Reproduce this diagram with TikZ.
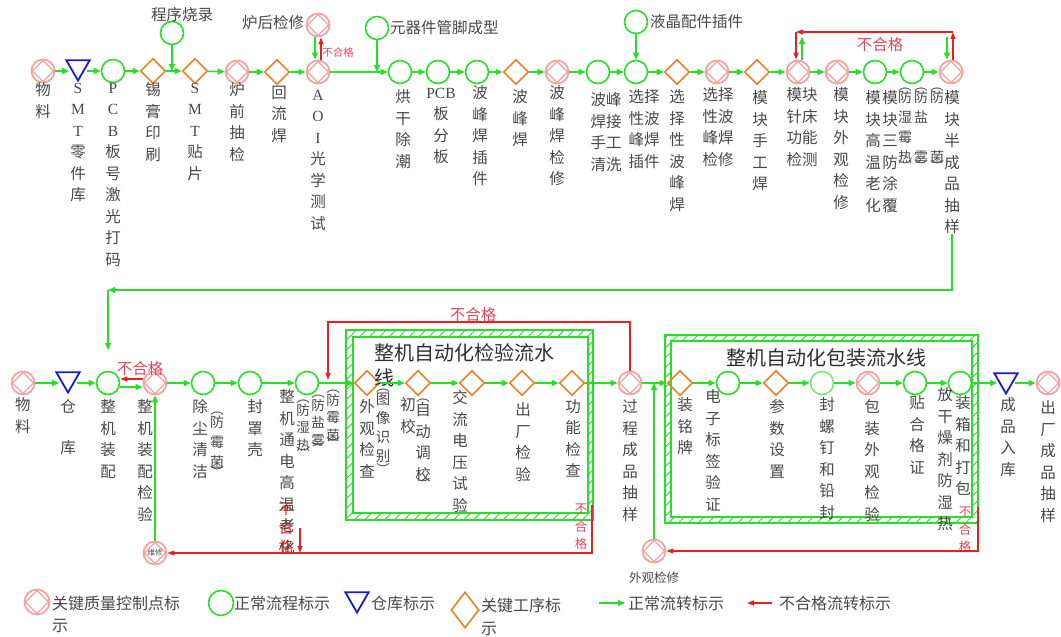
\documentclass[tikz,border=0pt]{standalone}
\usepackage{fontspec}
\newfontfamily\cjk{Noto Sans CJK SC}
\newfontfamily\latn{Liberation Serif}
\usetikzlibrary{shapes.geometric,arrows.meta,patterns.meta}
\definecolor{fg}{RGB}{40,222,40}
\definecolor{fgl}{RGB}{120,232,120}
\definecolor{qcp}{RGB}{243,163,163}
\definecolor{ko}{RGB}{240,128,40}
\definecolor{wb}{RGB}{25,25,205}
\definecolor{br}{RGB}{232,32,32}
\definecolor{brt}{RGB}{228,70,90}
\definecolor{tg}{RGB}{72,72,72}
\newcommand\ltn[1]{{\latn #1}}
\begin{document}
\begin{tikzpicture}[x=1pt,y=-1pt,
  qc/.style={circle,draw=qcp,line width=1.8pt,minimum size=23pt,inner sep=0pt,
    path picture={\draw[qcp,line width=1.2pt]
      ([yshift=-1pt]path picture bounding box.north) -- ([xshift=-1pt]path picture bounding box.east) --
      ([yshift=1pt]path picture bounding box.south) -- ([xshift=1pt]path picture bounding box.west) -- cycle;}},
  circ/.style={circle,draw=fg,line width=1.6pt,minimum size=23pt,inner sep=0pt},
  dia/.style={diamond,draw=ko,line width=1.6pt,minimum width=25pt,minimum height=25pt,inner sep=0pt},
  tri/.style={regular polygon,regular polygon sides=3,shape border rotate=180,draw=wb,line width=1.8pt,minimum size=27pt,inner sep=0pt},
  flow/.style={draw=fg,line width=1.4pt,-{Triangle[length=7pt,width=6pt]}},
  bad/.style={draw=br,line width=1.2pt,-{Triangle[length=7pt,width=5pt]}},
  lbl/.style={font=\cjk\fontsize{15.5}{21.5}\selectfont,text=tg,align=center,inner sep=0pt,anchor=north},
  pl/.style={font=\cjk\fontsize{14}{20}\selectfont,text=tg,align=center,inner sep=0pt,anchor=north},
  pl2/.style={font=\cjk\fontsize{13.5}{17.5}\selectfont,text=tg,align=center,inner sep=0pt,anchor=north},
  pl3/.style={font=\cjk\fontsize{14.5}{19}\selectfont,text=tg,align=center,inner sep=0pt,anchor=north},
  pp/.style={font=\cjk\fontsize{13.5}{14}\selectfont,text=tg,inner sep=0pt},
  hl/.style={font=\cjk\fontsize{15.5}{18}\selectfont,text=tg,inner sep=0pt},
  sl/.style={font=\cjk\fontsize{12.5}{14}\selectfont,text=tg,inner sep=0pt},
  lgt/.style={font=\cjk\fontsize{16}{18}\selectfont,text=tg,inner sep=0pt,anchor=west},
  rl/.style={font=\cjk\fontsize{15.5}{18}\selectfont,text=brt,inner sep=0pt},
  rs/.style={font=\cjk\fontsize{12.5}{17.5}\selectfont,text=brt,align=center,inner sep=0pt,anchor=north},
  rv/.style={font=\cjk\fontsize{15}{19}\selectfont,text=br,align=center,inner sep=0pt,anchor=north},
  ttl/.style={font=\cjk\fontsize{20}{24}\selectfont,text=black!82,inner sep=0pt},
  hatchbox/.style={pattern={Lines[angle=45,distance=7pt,line width=0.9pt]},pattern color=fg,even odd rule},
  boxln/.style={draw=fg,line width=1.3pt}
]
\useasboundingbox (0,0) rectangle (1061,637);

% ---------- hatched boxes ----------
\fill[hatchbox] (346,330) rectangle (593,520) (353,337) rectangle (588,513);
\draw[boxln] (346,330) rectangle (593,520) (353,337) rectangle (588,513);
\fill[hatchbox] (665,335) rectangle (978,523) (671,341) rectangle (972,517);
\draw[boxln] (665,335) rectangle (978,523) (671,341) rectangle (972,517);

% ---------- top row nodes ----------
\node[qc] (t1) at (43,71) {};
\node[tri] (t2) at (78,67) {};
\node[circ] (t3) at (113,71) {};
\node[dia] (t4) at (153,71) {};
\node[dia] (t5) at (195,71) {};
\node[qc] (t6) at (237,72) {};
\node[dia] (t7) at (277,72) {};
\node[qc] (t8) at (318,72) {};
\node[qc] (t8u) at (318,25) {};
\node[circ] (t4u) at (172,33) {};
\coordinate (j1) at (172,71);
\node[circ] (t9) at (400,72) {};
\node[circ] (t9u) at (377,28) {};
\coordinate (j2) at (377,72);
\node[circ] (t10) at (438,72) {};
\node[circ] (t11) at (477,72) {};
\node[dia] (t12) at (516,72) {};
\node[qc] (t13) at (557,72) {};
\node[circ] (t14) at (598,72) {};
\node[circ] (t15) at (636,72) {};
\node[circ] (t15u) at (636,22) {};
\node[dia] (t16) at (677,72) {};
\node[qc] (t17) at (717,72) {};
\node[dia] (t18) at (757,72) {};
\node[qc] (t19) at (798,72) {};
\node[qc] (t20) at (837,72) {};
\node[circ] (t21) at (875,72) {};
\node[circ] (t22) at (912,72) {};
\node[qc] (t23) at (951,72) {};

% top labels
\node[hl] (h1) at (182,15) {程序烧录};
\node[hl] (h2) at (273,23) {炉后检修};
\node[hl,anchor=west] (h3) at (390,28) {元器件管脚成型};
\node[hl,anchor=west] (h4) at (650,22) {液晶配件插件};
\node[rl,font=\cjk\fontsize{10.5}{12}\selectfont] (nr6) at (338,52) {不合格};
\node[rl] (nr5) at (880,45) {不合格};

\node[lbl] (lt1) at (43,82.5) {物\\料};
\node[lbl] (lt2) at (78,83) {\ltn{S}\\\ltn{M}\\\ltn{T}\\零\\件\\库};
\node[lbl] (lt3) at (113,83) {\ltn{P}\\\ltn{C}\\\ltn{B}\\板\\号\\激\\光\\打\\码};
\node[lbl] (lt4) at (153,82.5) {锡\\膏\\印\\刷};
\node[lbl] (lt5) at (195,83) {\ltn{S}\\\ltn{M}\\\ltn{T}\\贴\\片};
\node[lbl] (lt6) at (237,82.5) {炉\\前\\抽\\检};
\node[lbl] (lt7) at (279,85.5) {回\\流\\焊};
\node[lbl] (lt8) at (318,90) {\ltn{A}\\\ltn{O}\\\ltn{I}\\光\\学\\测\\试};
\node[lbl] (lt9) at (403,89.5) {烘\\干\\除\\潮};
\node[lbl] (lt10) at (441,88) {\ltn{PCB}\\板\\分\\板};
\node[lbl] (lt11) at (480,85.5) {波\\峰\\焊\\插\\件};
\node[lbl] (lt12) at (520,89.5) {波\\峰\\焊};
\node[lbl] (lt13) at (557,85.5) {波\\峰\\焊\\检\\修};
\node[lbl] (lt14) at (606,92.5) {波峰\\焊接\\手工\\清洗};
\node[lbl] (lt15) at (644,89.5) {选择\\性波\\峰焊\\插件};
\node[lbl] (lt16) at (677,89.5) {选\\择\\性\\波\\峰\\焊};
\node[lbl] (lt17) at (718,87.5) {选择\\性波\\峰焊\\检修};
\node[lbl] (lt18) at (760,90.5) {模\\块\\手\\工\\焊};
\node[lbl] (lt19) at (802,87.5) {模块\\针床\\功能\\检测};
\node[lbl] (lt20) at (841,87.5) {模\\块\\外\\观\\检\\修};
\node[lbl] (lt21) at (873,90.5) {模\\块\\高\\温\\老\\化};
\node[lbl] (lt22) at (890,90.5) {模\\块\\三\\防\\涂\\覆};
\node[pl] (lt22a) at (905,91) {防\\湿\\霉\\热};
\node[pl] (lt22b) at (921,91) {防\\盐\\\phantom{盐}\\雾};
\node[pl] (lt22c) at (937,91) {防\\\phantom{菌}\\\phantom{菌}\\菌};
\node[pp] (pa1) at (905,90) {︵};
\node[pp] (pa2) at (905,166) {︶};
\node[pp] (pa3) at (921,90) {︵};
\node[pp] (pa4) at (921,166) {︶};
\node[pp] (pa5) at (937,90) {︵};
\node[pp] (pa6) at (937,166) {︶};
\node[lbl] (lt23) at (952,90.5) {模\\块\\半\\成\\品\\抽\\样};

% top arrows
\draw[flow] (t1) -- (t1 -| t2.west);
\draw[flow] (t3 -| t2.east) -- (t3);
\draw[flow] (t3) -- (t4);
\draw[flow] (t4) -- (t5);
\draw[flow] (t4u) -- (j1);
\draw[flow] (t5) -- (t6);
\draw[flow] (t6) -- (t7);
\draw[flow] (t7) -- (t8);
\draw[flow] ([xshift=-3pt]t8u.south) -- ([xshift=-3pt]t8.north);
\draw[bad] ([xshift=3pt]t8.north) -- ([xshift=3pt]t8u.south);
\draw[flow] (t8) -- (t9);
\draw[flow] (t9u) -- (j2);
\draw[flow] (t9) -- (t10);
\draw[flow] (t10) -- (t11);
\draw[flow] (t11) -- (t12);
\draw[flow] (t12) -- (t13);
\draw[flow] (t13) -- (t14);
\draw[flow] (t14) -- (t15);
\draw[flow] (t15u) -- (t15);
\draw[flow] (t15) -- (t16);
\draw[flow] (t16) -- (t17);
\draw[flow] (t17) -- (t18);
\draw[flow] (t18) -- (t19);
\draw[flow] (t19) -- (t20);
\draw[flow] (t20) -- (t21);
\draw[flow] (t21) -- (t22);
\draw[flow] (t22) -- (t23);

% top-right rework loop
\coordinate (ra) at (953,32);
\coordinate (rb) at (796,32);
\draw[bad] ([xshift=2pt]t23.north) -- (ra);
\draw[bad] (ra) -- (rb);
\draw[bad] (rb) -- ([xshift=-2pt]t19.north);
\coordinate (ga) at (802,37);
\coordinate (gb) at (947,37);
\draw[flow] ([xshift=4pt]t19.north) -- (ga);
\draw[flow] (gb) -- ([xshift=-4pt]t23.north);

% long return line
\coordinate (gc) at (108,290);
\coordinate (ge) at (108,350);
\draw[flow] (lt23.south) |- (gc);
\draw[flow] (gc) -- (ge);

% ---------- bottom row nodes ----------
\node[qc] (b1) at (23,383) {};
\node[tri] (b2) at (68,379) {};
\node[circ] (b3) at (108,383) {};
\node[qc] (b4) at (155,383) {};
\node[circ] (b5) at (203,383) {};
\node[circ] (b6) at (250,383) {};
\node[circ] (b7) at (307,383) {};
\node[dia] (b8) at (367,383) {};
\node[dia] (b9) at (418,383) {};
\node[dia] (b10) at (472,383) {};
\node[dia] (b11) at (522,383) {};
\node[dia] (b12) at (572,383) {};
\node[qc] (b13) at (630,383) {};
\node[qc] (b13d) at (654,551) {};
\coordinate (j3) at (654,383);
\node[dia] (b14) at (680,383) {};
\node[circ] (b15) at (728,383) {};
\node[dia] (b16) at (776,383) {};
\node[circ,draw=fgl] (b17) at (822,383) {};
\node[qc] (b18) at (868,383) {};
\node[circ] (b19) at (915,383) {};
\node[circ] (b20) at (960,383) {};
\node[tri] (b21) at (1006,380) {};
\node[qc] (b22) at (1048,383) {};
\node[qc,font=\cjk\fontsize{7.5}{8}\selectfont,text=tg] (b4d) at (155,553) {维修};

% titles
\node[ttl,anchor=west] (tt1) at (374,353) {整机自动化检验流水};
\node[ttl,anchor=west] (tt1b) at (374,378) {线};
\node[ttl] (tt2) at (826,358) {整机自动化包装流水线};

% red labels
\node[rl] (nr3) at (140,369) {不合格};
\node[rl] (nr4) at (473,315) {不合格};
\node[rs] (nr1) at (581,504) {不\\合\\格};
\node[rs] (nr2) at (965,507) {不\\合\\格};
\node[rv] (lb7r) at (286,503) {不\\合\\格};

% bottom labels
\node[lbl] (lb1) at (23,397.5) {物\\料};
\node[lbl] (lb2) at (68,399.5) {仓\\[19.5pt]库};
\node[lbl] (lb3) at (108,399.5) {整\\机\\装\\配};
\node[lbl] (lb4) at (145,399.5) {整\\机\\装\\配\\检\\验};
\node[lbl] (lb5) at (200,399.5) {除\\尘\\清\\洁};
\node[pl] (lb5a) at (217,416) {防\\霉\\菌};
\node[pp] (pb1) at (217,414) {︵};
\node[pp] (pb2) at (217,472) {︶};
\node[lbl] (lb6) at (255,399.5) {封\\罩\\壳};
\node[lbl] (lb7) at (287,389.5) {整\\机\\通\\电\\高\\温\\老\\化};
\node[pl2] (lb7a) at (303,403.5) {防\\湿\\热};
\node[pp] (pc1) at (303,402) {︵};
\node[pp] (pc2) at (303,453) {︶};
\node[pl2] (lb7b) at (318,398.5) {防\\盐\\雾};
\node[pp] (pc3) at (318,397) {︵};
\node[pp] (pc4) at (318,448) {︶};
\node[pl2] (lb7c) at (333,393.5) {防\\霉\\菌};
\node[pp] (pc5) at (333,392) {︵};
\node[pp] (pc6) at (333,443) {︶};
\node[lbl] (lb8) at (367,399.5) {外\\观\\检\\查};
\node[pl3] (lb8a) at (383,393) {图\\像\\识\\别};
\node[pp] (pd1) at (383,391) {︵};
\node[pp] (pd2) at (383,469) {︶};
\node[lbl] (lb9) at (408,397.5) {初\\校};
\node[lbl] (lb9a) at (423,402.5) {自\\动\\调\\校};
\node[pp] (pd3) at (423,401) {︵};
\node[pp] (pd4) at (423,484) {︶};
\node[lbl] (lb10) at (460,390.5) {交\\流\\电\\压\\试\\验};
\node[lbl] (lb11) at (523,402.5) {出\\厂\\检\\验};
\node[lbl] (lb12) at (573,399.5) {功\\能\\检\\查};
\node[lbl] (lb13) at (630,399.5) {过\\程\\成\\品\\抽\\样};
\node[sl] (lb13d) at (654,578) {外观检修};
\node[lbl] (lb14) at (685,397.5) {装\\铭\\牌};
\node[lbl] (lb15) at (713,389.5) {电\\子\\标\\签\\验\\证};
\node[lbl] (lb16) at (777,399.5) {参\\数\\设\\置};
\node[lbl] (lb17) at (827,397.5) {封\\螺\\钉\\和\\铅\\封};
\node[lbl] (lb18) at (872,399.5) {包\\装\\外\\观\\检\\验};
\node[lbl] (lb19) at (917,395.5) {贴\\合\\格\\证};
\node[lbl] (lb20a) at (945,387.5) {放\\干\\燥\\剂\\防\\湿\\热};
\node[lbl] (lb20) at (963,395.5) {装\\箱\\和\\打\\包};
\node[lbl] (lb21) at (1008,397.5) {成\\品\\入\\库};
\node[lbl] (lb22) at (1048,400.5) {出\\厂\\成\\品\\抽\\样};

% bottom arrows
\draw[flow] (b1) -- (b1 -| b2.west);
\draw[flow] (b3 -| b2.east) -- (b3);
\draw[flow] ([yshift=-4pt]b3.east) -- ([yshift=-4pt]b4.west);
\draw[bad] ([yshift=4pt]b4.west) -- ([yshift=4pt]b3.east);
\draw[flow] (b4) -- (b5);
\draw[flow] (b5) -- (b6);
\draw[flow] (b6) -- (b7);
\draw[flow] (b7) -- (b8);
\draw[flow] (b8) -- (b9);
\draw[flow] (b9) -- (b10);
\draw[flow] (b10) -- (b11);
\draw[flow] (b11) -- (b12);
\draw[flow] (b12) -- (b13);
\draw[flow] (b13) -- (b14);
\draw[flow] (b13d) -- (j3);
\draw[flow] (b14) -- (b15);
\draw[flow] (b15) -- (b16);
\draw[flow] (b16) -- (b17);
\draw[flow] (b17) -- (b18);
\draw[flow] (b18) -- (b19);
\draw[flow] (b19) -- (b20);
\draw[flow] (b20) -- (b20 -| b21.west);
\draw[flow] (b22 -| b21.east) -- (b22);
\draw[flow] (b4d) -- (b4);

% bottom rework lines
\coordinate (rc) at (328,322);
\coordinate (rd) at (328,380);
\draw[bad] (b13.north) |- (rc) -- (rd);
\coordinate (re) at (592,505);
\coordinate (rf) at (592,553);
\draw[bad] (re) -- (rf) -- (b4d);
\coordinate (rg) at (300,528);
\coordinate (rh) at (300,553);
\draw[bad] (rg) -- (rh);
\coordinate (ri) at (978,507);
\coordinate (rj) at (978,551);
\draw[bad] (ri) -- (rj) -- (b13d);

% ---------- legend ----------
\node[qc,minimum size=25pt] (lg1) at (37,602) {};
\node[lgt] (lgt1) at (52,603) {关键质量控制点标};
\node[lgt] (lgt1b) at (52,626) {示};
\node[circ,minimum size=25pt] (lg2) at (221,603) {};
\node[lgt] (lgt2) at (234,603) {正常流程标示};
\node[tri] (lg3) at (357,599) {};
\node[lgt] (lgt3) at (371,603) {仓库标示};
\node[dia,minimum width=28pt,minimum height=36pt] (lg4) at (465,610) {};
\node[lgt] (lgt4) at (481,605) {关键工序标};
\node[lgt] (lgt4b) at (481,629) {示};
\coordinate (lga) at (599,603);
\coordinate (lgb) at (625,603);
\draw[flow] (lga) -- (lgb);
\node[lgt] (lgt5) at (628,603) {正常流转标示};
\coordinate (lgc) at (772,603);
\coordinate (lgd) at (747,603);
\draw[bad,line width=1.8pt] (lgc) -- (lgd);
\node[lgt] (lgt6) at (779,603) {不合格流转标示};
\end{tikzpicture}
\end{document}
